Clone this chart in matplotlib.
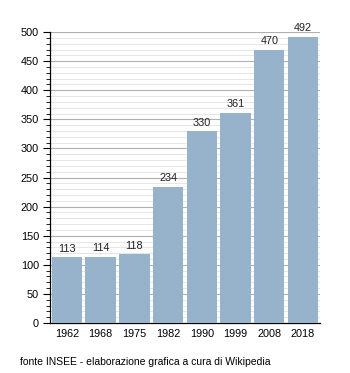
import matplotlib
matplotlib.use("Agg")
import matplotlib.pyplot as plt
from matplotlib.ticker import MultipleLocator

years = ["1962", "1968", "1975", "1982", "1990", "1999", "2008", "2018"]
population = [113, 114, 118, 234, 330, 361, 470, 492]

plt.rcParams["font.family"] = ["Liberation Sans", "DejaVu Sans"]

fig = plt.figure(figsize=(3.5, 3.73), dpi=100)
ax = fig.add_axes([0.143, 0.134, 0.771, 0.780])

x = range(len(years))
ax.bar(x, population, width=0.9, color="#97b2cb", zorder=3)
for xi, v in zip(x, population):
    ax.text(xi, v + 6, str(v), ha="center", va="bottom", fontsize=7.8, color="#222222")

ax.set_xlim(-0.5, len(years) - 0.5)
ax.set_ylim(0, 500)
ax.set_xticks(list(x))
ax.set_xticklabels(years, fontsize=7.8)
ax.tick_params(axis="x", length=0, pad=4)
ax.yaxis.set_major_locator(MultipleLocator(50))
ax.yaxis.set_minor_locator(MultipleLocator(10))
ax.tick_params(axis="y", which="major", length=5, width=0.8, labelsize=7.8, pad=3)
ax.tick_params(axis="y", which="minor", length=3, width=0.6)
ax.grid(axis="y", which="major", color="#b0b0b0", linewidth=0.8, zorder=1)
ax.grid(axis="y", which="minor", color="#e2e2e2", linewidth=0.6, zorder=0)
for side in ("top", "right"):
    ax.spines[side].set_visible(False)
ax.spines["left"].set_linewidth(0.9)
ax.spines["bottom"].set_linewidth(0.9)

fig.text(20 / 350, 1 - 362 / 373, "fonte INSEE - elaborazione grafica a cura di Wikipedia",
         fontsize=7.5, va="center", ha="left")

fig.savefig("out.png", dpi=100)
